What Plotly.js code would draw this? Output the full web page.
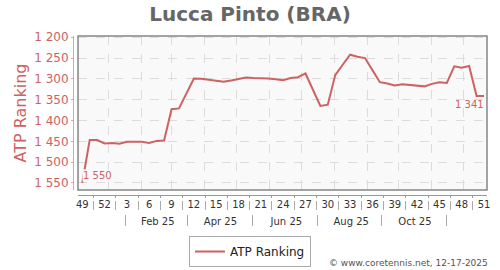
<!DOCTYPE html>
<html>
<head>
<meta charset="utf-8">
<script src="https://cdn.plot.ly/plotly-3.0.1.min.js"></script>
<style>html,body{margin:0;padding:0;background:#fff;}#chart{width:500px;height:270px;}</style>
</head>
<body>
<div id="chart"></div>
<script>
// ---- data ----
const startDate = '2024-12-07';
const weekLabels = [49,50,51,52,1,2,3,4,5,6,7,8,9,10,11,12,13,14,15,16,17,18,19,20,21,22,23,24,25,26,27,28,29,30,31,32,33,34,35,36,37,38,39,40,41,42,43,44,45,46,47,48,49,50,51];
const ranks = [1550,1447,1447,1455,1454,1456,1451,1451,1451,1454,1449,1448,
               1373,1371,1335,1299,1300,1302,1304,1307,1304,1300,1297,1298,
               1298,1299,1301,1303,1298,1296,1287,1327,1365,1362,1291,1266,
               1242,1247,1250,1279,1308,1311,1316,1313,1315,1317,1318,1312,
               1308,1310,1270,1273,1269,1341,1341];
const monthLabels = ['Feb 25','Apr 25','Jun 25','Aug 25','Oct 25'];
const monthLabelDates = ['2025-02-16','2025-04-16','2025-06-17','2025-08-17','2025-10-16'];
const monthSepDates = ['2025-01-17','2025-03-16','2025-05-16','2025-07-16','2025-09-15','2025-11-15'];
const monthStarts = ['2025-01-01','2025-02-01','2025-03-01','2025-04-01','2025-05-01','2025-06-01','2025-07-01','2025-08-01','2025-09-01','2025-10-01','2025-11-01','2025-12-01'];
const seriesName = 'ATP Ranking';
const chartTitle = 'Lucca Pinto (BRA)';
const footer = '© www.coretennis.net, 12-17-2025';

// ---- derived ----
const DAY = 86400000;
const t0 = Date.parse(startDate + 'T00:00:00Z');
function iso(ms){ return new Date(ms).toISOString().slice(0,19).replace('T',' '); }
const dates = weekLabels.map((w,i) => iso(t0 + i*7*DAY));
const labelIdx = weekLabels.map((w,i)=>i).filter(i => i % 3 === 0);
const weekTickVals = labelIdx.map(i => dates[i]);
const weekTickText = labelIdx.map(i => String(weekLabels[i]));
const sepVals = labelIdx.map(i => iso(t0 + (i+1.5)*7*DAY));
const xRange = [iso(t0 - 4*DAY), iso(t0 + ((weekLabels.length-1)*7 + 2.8)*DAY)];
function fmt(v){ return String(v).replace(/\B(?=(\d{3})+(?!\d))/g,' '); }
const n = ranks.length;

const red = '#cd6262';
const font = 'DejaVu Sans, sans-serif';

const trace = {
  type: 'scatter', mode: 'lines',
  x: dates, y: ranks, name: seriesName,
  line: {color: red, width: 2},
  hoverinfo: 'x+y'
};

const baseX = {type: 'date', range: xRange, showgrid: false, zeroline: false, fixedrange: true, automargin: false, tickangle: 0};

const layout = {
  width: 500, height: 270,
  margin: {l: 60, r: 13, t: 36, b: 40, autoexpand: false},
  paper_bgcolor: '#ffffff',
  plot_bgcolor: '#f9f9f9',
  separators: '. ',
  font: {family: font, size: 10, color: '#333'},
  showlegend: true,
  title: {
    text: chartTitle,
    font: {family: font, size: 20, color: '#666', weight: 'bold'},
    xref: 'container', x: 0.5, xanchor: 'center',
    yref: 'container', y: 0.95, yanchor: 'middle'
  },
  xaxis: Object.assign({}, baseX, {
    domain: [0.0422, 1], anchor: 'y',
    tickmode: 'array', tickvals: monthStarts, ticktext: monthStarts.map(()=>''),
    showgrid: true, gridcolor: '#dcdcdc', griddash: 'dash', gridwidth: 1,
    showticklabels: false, ticks: '', showline: false
  }),
  xaxis2: Object.assign({}, baseX, {
    overlaying: 'x', anchor: 'free', position: 0.1804,
    showline: true, linecolor: '#999', linewidth: 1,
    tickmode: 'array', tickvals: sepVals, ticks: 'outside', ticklen: 2, tickcolor: '#999',
    showticklabels: false
  }),
  xaxis3: Object.assign({}, baseX, {
    overlaying: 'x', anchor: 'free', position: 0.1546,
    showline: false,
    tickmode: 'array', tickvals: sepVals, ticks: 'outside', ticklen: 9, tickcolor: '#aaa',
    showticklabels: false
  }),
  xaxis4: Object.assign({}, baseX, {
    overlaying: 'x', anchor: 'free', position: 0.170,
    showline: false, ticks: '',
    tickmode: 'array', tickvals: weekTickVals, ticktext: weekTickText,
    tickfont: {family: font, size: 10, color: '#333'}
  }),
  xaxis5: Object.assign({}, baseX, {
    overlaying: 'x', anchor: 'free', position: 0.0825,
    showline: false,
    tickmode: 'array', tickvals: monthSepDates, ticks: 'outside', ticklen: 11, tickcolor: '#aaa',
    showticklabels: false
  }),
  xaxis6: Object.assign({}, baseX, {
    overlaying: 'x', anchor: 'free', position: 0.080,
    showline: false, ticks: '',
    tickmode: 'array', tickvals: monthLabelDates, ticktext: monthLabels,
    tickfont: {family: font, size: 10, color: '#333'}
  }),
  yaxis: {
    domain: [0.2062, 1], anchor: 'free', position: 0.0304, automargin: false,
    range: [1567, 1197], tick0: 1200, dtick: 50, separatethousands: true,
    showgrid: true, gridcolor: '#dcdcdc', griddash: 'dash', zeroline: false,
    showline: true, linecolor: '#dda5a5', linewidth: 1,
    ticks: 'outside', ticklen: 2, tickcolor: '#dda5a5',
    tickfont: {family: font, size: 12, color: red},
    title: {text: seriesName, font: {family: font, size: 16, color: red}, standoff: 2},
    fixedrange: true
  },
  legend: {
    xref: 'paper', x: 0.445, xanchor: 'center',
    yref: 'paper', y: -0.031, yanchor: 'top',
    bordercolor: '#aaa', borderwidth: 1, bgcolor: '#fff',
    font: {family: font, size: 12, color: '#222'},
    itemwidth: 30
  },
  shapes: [{
    type: 'rect', xref: 'x domain', yref: 'y domain',
    x0: 0, x1: 1, y0: 0, y1: 1,
    line: {color: '#858585', width: 1.5}, layer: 'above'
  }],
  annotations: [
    {
      text: fmt(ranks[0]), x: dates[0], y: ranks[0], xref: 'x', yref: 'y',
      showarrow: false, xanchor: 'left', yanchor: 'bottom', xshift: 0, yshift: 1,
      bgcolor: '#f9f9f9', borderpad: 0,
      font: {family: font, size: 10, color: red}
    },
    {
      text: fmt(ranks[n-1]), x: dates[n-1], y: ranks[n-1], xref: 'x', yref: 'y',
      showarrow: false, xanchor: 'right', yanchor: 'top', xshift: 1, yshift: -2,
      borderpad: 0,
      font: {family: font, size: 10, color: red}
    },
    {
      text: footer, showarrow: false,
      xref: 'paper', x: 1.007, xanchor: 'right',
      yref: 'paper', y: -0.170, yanchor: 'middle',
      font: {family: font, size: 9, color: '#555'}
    }
  ]
};

// invisible traces to bind overlay axes
const axisBinders = ['x2','x3','x4','x5','x6'].map(ax => ({
  type: 'scatter', mode: 'markers', x: [dates[0]], y: [ranks[0]],
  xaxis: ax, yaxis: 'y', marker: {opacity: 0}, showlegend: false, hoverinfo: 'skip'
}));

Plotly.newPlot('chart', [trace].concat(axisBinders), layout, {displayModeBar: false, staticPlot: true});
</script>
</body>
</html>
